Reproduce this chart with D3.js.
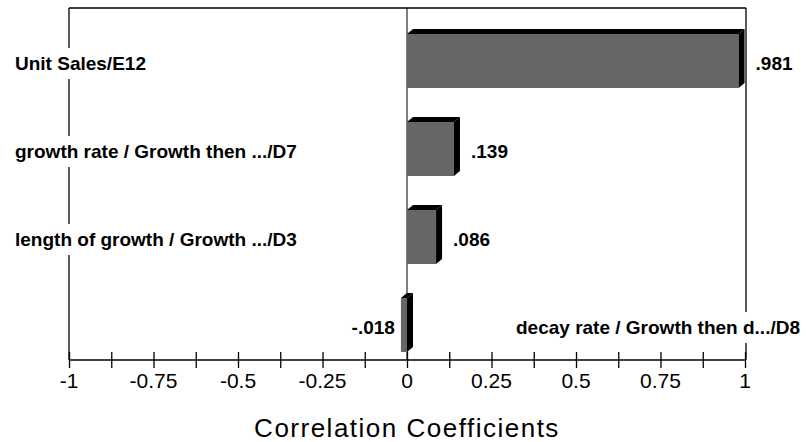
<!DOCTYPE html>
<html><head><meta charset="utf-8">
<script src="https://cdn.jsdelivr.net/npm/d3@7"></script>
<style>body{margin:0;background:#fff}svg{display:block}text{font-family:"Liberation Sans",Arial,sans-serif}</style>
</head><body><svg id="c" width="806" height="442"></svg>
<script>
const categories = ["Unit Sales/E12","growth rate / Growth then .../D7","length of growth / Growth .../D3","decay rate / Growth then d.../D8"];
const values = [0.981, 0.139, 0.086, -0.018];
const valueLabels = [".981", ".139", ".086", "-.018"];
const tickValues = [-1,-0.875,-0.75,-0.625,-0.5,-0.375,-0.25,-0.125,0,0.125,0.25,0.375,0.5,0.625,0.75,0.875,1];
const tickLabels = ["-1","-0.75","-0.5","-0.25","0","0.25","0.5","0.75","1"];
const axisTitle = "Correlation Coefficients";

const svg = d3.select("#c");
const L = 69, R = 745, T = 8, B = 360;
const x = d3.scaleLinear().domain([-1,1]).range([L,R]);
const y = d3.scaleBand().domain(categories).range([T,B]).paddingInner(0).paddingOuter(0);
const dx = 6, dy = 5;
const faceTop = c => y(c) + y.bandwidth()*0.295;
const faceH = y.bandwidth()*0.614;

// frame
const g = svg.append("g");
g.append("line").attr("x1",L).attr("x2",R+1).attr("y1",T).attr("y2",T).attr("stroke","#000").attr("stroke-width",1.3);
g.append("line").attr("x1",L).attr("x2",L).attr("y1",T).attr("y2",B).attr("stroke","#000").attr("stroke-width",1.3);
g.append("line").attr("x1",R+1).attr("x2",R+1).attr("y1",T).attr("y2",B).attr("stroke","#000").attr("stroke-width",1.3);
g.append("line").attr("x1",x(0)).attr("x2",x(0)).attr("y1",T).attr("y2",B).attr("stroke","#000").attr("stroke-width",1);

// axis
const axis = d3.axisBottom(x).tickValues(tickValues).tickSize(8).tickFormat("");
const ax = svg.append("g").attr("transform",`translate(0,${B})`).call(axis);
ax.select(".domain").attr("stroke","#000").attr("stroke-width",1.6).attr("d",`M${L},0H${R+1}`);
ax.selectAll(".tick line").attr("y1",-8).attr("y2",8).attr("stroke","#000").attr("stroke-width",1.3);
svg.append("g").selectAll("text").data(tickLabels).join("text")
  .attr("x",d=>x(+d)).attr("y",388).attr("text-anchor","middle")
  .attr("font-size",21).attr("fill","#000").text(d=>d);
svg.append("text").attr("x",x(0)).attr("y",437).attr("text-anchor","middle")
  .attr("font-size",26).attr("letter-spacing",1.5).attr("fill","#000").text(axisTitle);

// bars
const bars = svg.append("g").selectAll("g").data(categories).join("g");
bars.each(function(c,i){
  const v = values[i];
  const x0 = Math.min(x(0),x(v)), x1 = Math.max(x(0),x(v));
  const yt = faceTop(c), yb = yt + faceH;
  const s = d3.select(this);
  s.append("rect").attr("x",x0).attr("y",yt).attr("width",x1-x0).attr("height",faceH).attr("fill","#666666");
  s.append("path").attr("d",`M${x0},${yt}L${x0+dx},${yt-dy}L${x1+dx},${yt-dy}L${x1},${yt}Z`).attr("fill","#000");
  s.append("path").attr("d",`M${x1},${yt}L${x1+dx},${yt-dy}L${x1+dx},${yb-dy}L${x1},${yb}Z`).attr("fill","#000");
});

// labels
const lab = svg.append("g");
categories.forEach((c,i)=>{
  const v = values[i];
  const base = y(c) + y.bandwidth()*0.705;
  const neg = v < 0;
  const t = lab.append("text").attr("x", neg ? 800 : 15).attr("y",base)
    .attr("text-anchor", neg ? "end" : "start").attr("font-size",19).attr("font-weight","bold").attr("fill","#000").text(c);
  const bb = t.node().getBBox();
  lab.insert("rect","text").attr("x",bb.x-2).attr("y",bb.y-5).attr("width",bb.width+4).attr("height",bb.height+10).attr("fill","#fff");
  lab.append("text").attr("x", neg ? x(v)-6 : x(v)+17).attr("y",base)
    .attr("text-anchor", neg ? "end" : "start").attr("font-size",19).attr("font-weight","bold").attr("fill","#000").text(valueLabels[i]);
});
</script></body></html>
